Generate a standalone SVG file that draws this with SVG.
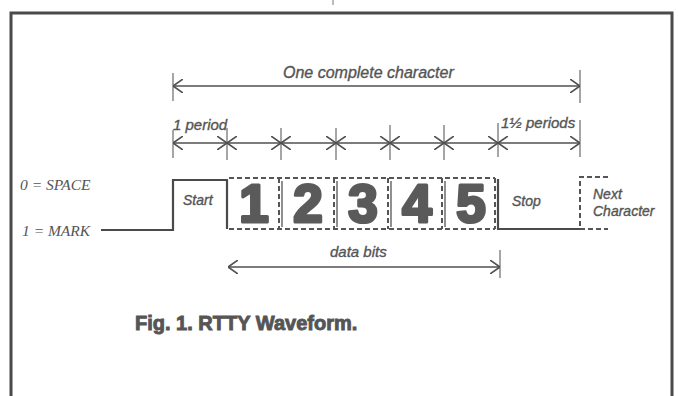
<svg xmlns="http://www.w3.org/2000/svg" width="678" height="396" viewBox="0 0 678 396">
  <style>
    .ln{stroke:#505050;stroke-width:1.6;fill:none}
    .tk{stroke:#6a6a6a;stroke-width:1.2;fill:none}
    .wave{stroke:#4a4a4a;stroke-width:2.2;fill:none}
    .dash{stroke:#555;stroke-width:2;fill:none;stroke-dasharray:5 3}
    .sep{stroke:#555;stroke-width:1.3;fill:none}
    .lbl{font-family:"Liberation Sans",Arial,sans-serif;font-style:italic;font-size:15px;fill:#555;stroke:#555;stroke-width:0.35}
    .ser{font-family:"Liberation Serif","Times New Roman",serif;font-style:italic;font-size:15.5px;fill:#555}
    .dig{font-family:"Liberation Sans",Arial,sans-serif;font-weight:bold;font-size:53px;fill:#5a5a5a;stroke:#5a5a5a;stroke-width:3.2;stroke-linejoin:round;text-anchor:middle}
    .cap{font-family:"Liberation Sans",Arial,sans-serif;font-weight:bold;font-size:20px;fill:#555;stroke:#555;stroke-width:0.9}
  </style>
  <defs>
    <marker id="arr" viewBox="0 0 10 14" refX="10" refY="7" markerWidth="10" markerHeight="14" markerUnits="userSpaceOnUse" orient="auto-start-reverse">
      <path d="M0,0 L10,7 L0,14" fill="none" stroke="#505050" stroke-width="1.6"/>
    </marker>
  </defs>

  <rect width="678" height="396" fill="#ffffff"/>

  <g id="frame">
    <path d="M11,396 V13 H672 V396" fill="none" stroke="#4a4a4a" stroke-width="3"/>
    <line x1="333" y1="0" x2="333" y2="5" stroke="#777" stroke-width="1"/>
  </g>

  <g id="ticks">
    <line class="tk" x1="173" y1="73" x2="173" y2="101"/>
    <line class="tk" x1="580" y1="70" x2="580" y2="103"/>
    <line class="tk" x1="173" y1="130" x2="173" y2="158"/>
    <line class="tk" x1="227" y1="128" x2="227" y2="160"/>
    <line class="tk" x1="281" y1="128" x2="281" y2="160"/>
    <line class="tk" x1="336" y1="128" x2="336" y2="160"/>
    <line class="tk" x1="390" y1="125" x2="390" y2="160"/>
    <line class="tk" x1="444" y1="125" x2="444" y2="160"/>
    <line class="tk" x1="498" y1="123" x2="498" y2="157"/>
    <line class="tk" x1="580" y1="120" x2="580" y2="157"/>
    <line class="tk" x1="500" y1="250" x2="500" y2="278"/>
  </g>

  <g id="connectors">
    <line class="ln" x1="173" y1="86" x2="580" y2="86" marker-start="url(#arr)" marker-end="url(#arr)"/>
    <line class="ln" x1="173" y1="143" x2="227" y2="143" marker-start="url(#arr)" marker-end="url(#arr)"/>
    <line class="ln" x1="227" y1="143" x2="281" y2="143" marker-start="url(#arr)" marker-end="url(#arr)"/>
    <line class="ln" x1="281" y1="143" x2="336" y2="143" marker-start="url(#arr)" marker-end="url(#arr)"/>
    <line class="ln" x1="336" y1="143" x2="390" y2="143" marker-start="url(#arr)" marker-end="url(#arr)"/>
    <line class="ln" x1="390" y1="143" x2="444" y2="143" marker-start="url(#arr)" marker-end="url(#arr)"/>
    <line class="ln" x1="444" y1="143" x2="498" y2="143" marker-start="url(#arr)" marker-end="url(#arr)"/>
    <line class="ln" x1="498" y1="143" x2="580" y2="143" marker-start="url(#arr)" marker-end="url(#arr)"/>
    <line class="ln" x1="228" y1="267" x2="500" y2="267" marker-start="url(#arr)" marker-end="url(#arr)"/>
  </g>

  <g id="waveform">
    <path class="wave" d="M101,230 H173 V180 H227 V229"/>
    <path class="wave" d="M498,179 V229 H580"/>
  </g>

  <g id="data-bits">
    <path class="dash" d="M229,178 H495 M229,229 H495 M495,178 V229"/>
    <path class="dash" d="M279,178 V229 M334,178 V229 M388,178 V229 M442,178 V229"/>
    <path class="sep" d="M282,181 V227 M337,181 V227 M391,181 V227 M445,181 V227"/>
    <text class="dig" x="254" y="222">1</text>
    <text class="dig" x="308" y="222">2</text>
    <text class="dig" x="363" y="222">3</text>
    <text class="dig" x="417" y="222">4</text>
    <text class="dig" x="471" y="222">5</text>
  </g>

  <g id="next-character">
    <path class="dash" d="M608,177 H580 V229 H608"/>
  </g>

  <g id="labels">
    <text class="lbl" x="283" y="78" style="font-size:16px">One complete character</text>
    <text class="lbl" x="173" y="130">1 period</text>
    <text class="lbl" x="501" y="128">1½ periods</text>
    <text class="ser" x="20" y="190">0 = SPACE</text>
    <text class="ser" x="22" y="236">1 = MARK</text>
    <text class="lbl" x="183" y="205" style="font-size:14px">Start</text>
    <text class="lbl" x="512" y="206" style="font-size:14px">Stop</text>
    <text class="lbl" x="593" y="199" style="font-size:14px">Next</text>
    <text class="lbl" x="593" y="216" style="font-size:14px">Character</text>
    <text class="lbl" x="330" y="257">data bits</text>
    <text class="cap" x="135" y="330">Fig. 1. RTTY Waveform.</text>
  </g>
</svg>
